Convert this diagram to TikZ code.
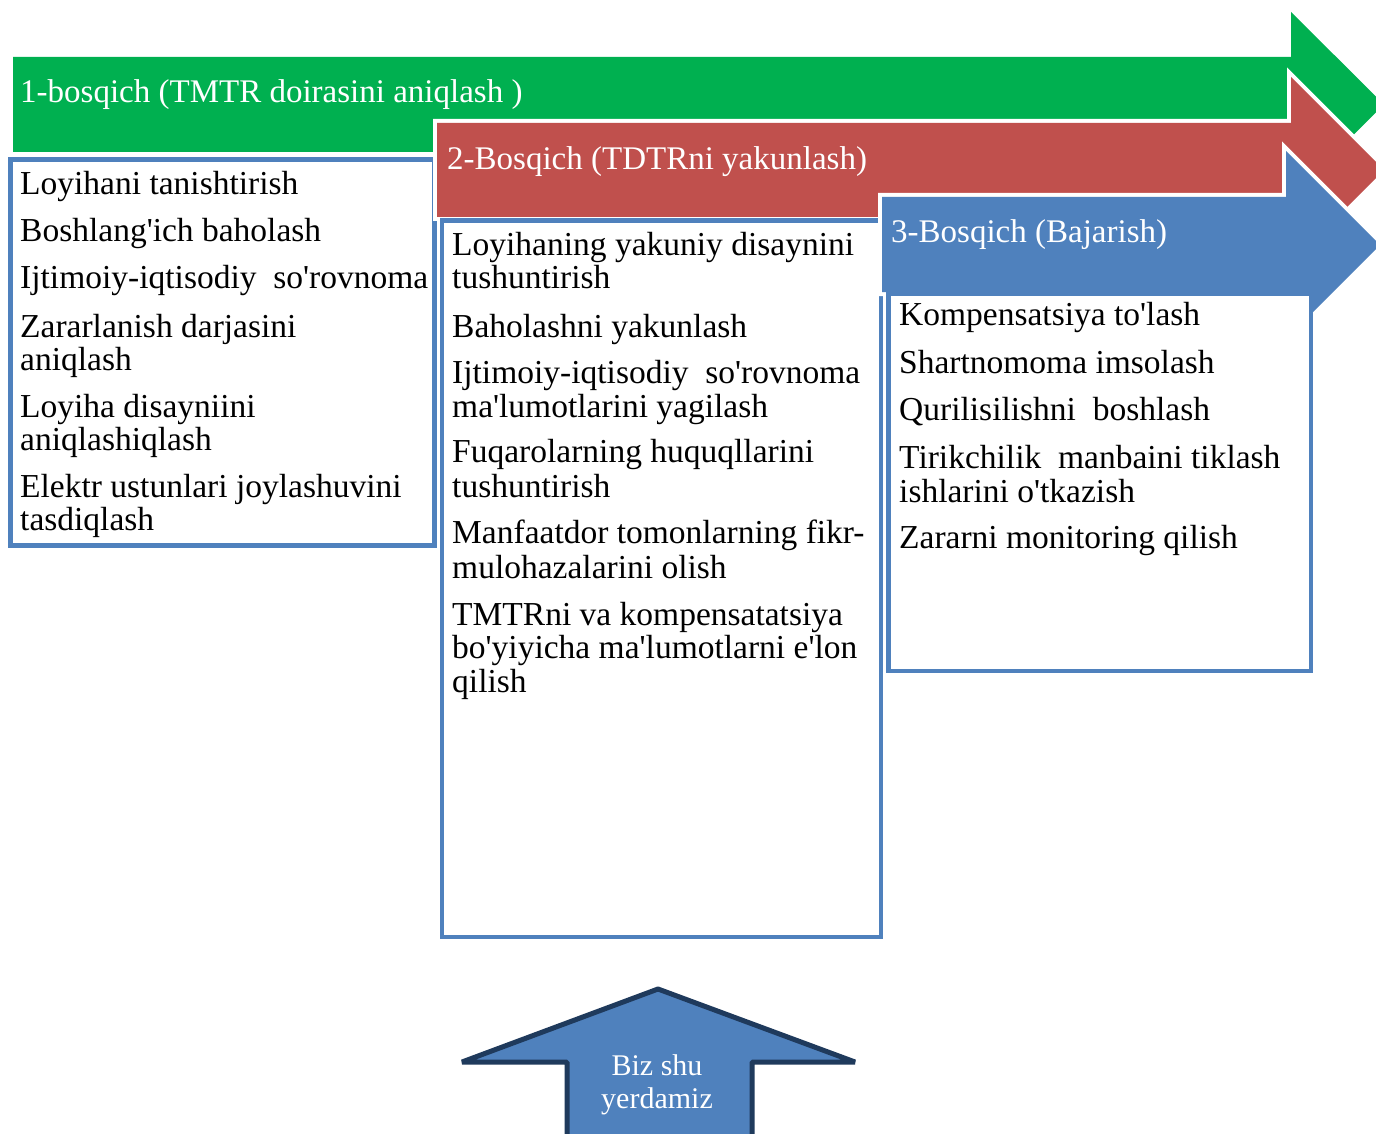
\documentclass[tikz,border=0pt]{standalone}
\usepackage{fontspec}
\setmainfont{Liberation Serif}
\definecolor{grn}{HTML}{00B050}
\definecolor{rd}{HTML}{C0504D}
\definecolor{blu}{HTML}{4F81BD}
\definecolor{navy}{HTML}{1F3A5C}
\newcommand\aq{\textquotesingle}
\tikzset{
  itm/.style={anchor=base west, inner sep=0pt, text=black, font=\fontsize{33.5}{34}\selectfont},
  hdr/.style={anchor=base west, inner sep=0pt, text=white, font=\fontsize{33}{40}\selectfont},
  stagearrow/.style={fill=#1, preaction={draw=white, line width=8pt, line join=miter}},
  listbox/.style={draw=blu, line width=4.5pt, fill=white},
  hereup/.style={draw=navy, line width=5pt, fill=blu, line join=bevel},
  heretxt/.style={anchor=base, inner sep=0pt, text=white, font=\fontsize{30}{33}\selectfont}
}
\begin{document}
\begin{tikzpicture}[x=1pt,y=-1pt]
\useasboundingbox (0,0) rectangle (1376,1134);
\clip (0,0) rectangle (1376,1134);
\fill[white] (0,0) rectangle (1376,1134);

% stage 1 arrow
\fill[stagearrow=grn] (13,57) -- (1291,57) -- (1291,12) -- (1384,104.5) -- (1291,197) -- (1291,152) -- (13,152) -- cycle;
\node[hdr] (h1) at (20,103) {1-bosqich (TMTR doirasini aniqlash )};

% box 1
\draw[listbox] (10.5,159.5) rectangle (434.5,545.5);
\node[itm] (a1) at (20,195) {Loyihani tanishtirish};
\node[itm] (a2) at (20,242) {Boshlang\aq ich baholash};
\node[itm] (a3) at (20,288) {Ijtimoiy-iqtisodiy\ \ so\aq rovnoma};
\node[itm] (a4) at (20,337) {Zararlanish darjasini};
\node[itm] (a5) at (20,370) {aniqlash};
\node[itm] (a6) at (20,417) {Loyiha disayniini};
\node[itm] (a7) at (20,450) {aniqlashiqlash};
\node[itm] (a8) at (20,497) {Elektr ustunlari joylashuvini};
\node[itm] (a9) at (20,530) {tasdiqlash};

% stage 2 arrow
\fill[stagearrow=rd] (437,123) -- (1291,123) -- (1291,77) -- (1384,170) -- (1291,263) -- (1291,217) -- (437,217) -- cycle;
\node[hdr] (h2) at (447,170) {2-Bosqich (TDTRni yakunlash)};

% box 2
\draw[listbox] (442,220.5) rectangle (881,937);
\node[itm] (b1) at (452,255) {Loyihaning yakuniy disaynini};
\node[itm] (b2) at (452,288) {tushuntirish};
\node[itm] (b3) at (452,337) {Baholashni yakunlash};
\node[itm] (b4) at (452,383) {Ijtimoiy-iqtisodiy\ \ so\aq rovnoma};
\node[itm] (b5) at (452,417) {ma\aq lumotlarini yagilash};
\node[itm] (b6) at (452,462) {Fuqarolarning huquqllarini};
\node[itm] (b7) at (452,497) {tushuntirish};
\node[itm] (b8) at (452,543) {Manfaatdor tomonlarning fikr-};
\node[itm] (b9) at (452,578) {mulohazalarini olish};
\node[itm] (b10) at (452,625) {TMTRni va kompensatatsiya};
\node[itm] (b11) at (452,658) {bo\aq yiyicha ma\aq lumotlarni e\aq lon};
\node[itm] (b12) at (452,692) {qilish};

% stage 3 arrow
\fill[stagearrow=blu] (882,197) -- (1286,197) -- (1286,151) -- (1380,245) -- (1286,339) -- (1286,292) -- (882,292) -- cycle;
\node[hdr] (h3) at (891,243) {3-Bosqich (Bajarish)};

% box 3
\draw[listbox] (888.5,294) rectangle (1311,671);
\node[itm] (c1) at (899,325) {Kompensatsiya to\aq lash};
\node[itm] (c2) at (899,373) {Shartnomoma imsolash};
\node[itm] (c3) at (899,420) {Qurilisilishni\ \ boshlash};
\node[itm] (c4) at (899,468) {Tirikchilik\ \ manbaini tiklash};
\node[itm] (c5) at (899,502) {ishlarini o\aq tkazish};
\node[itm] (c6) at (899,548) {Zararni monitoring qilish};

% "we are here" arrow
\draw[hereup] (567,1150) -- (567,1062) -- (462,1062) -- (658,989) -- (855,1062) -- (752,1062) -- (752,1150);
\node[heretxt] (w1) at (657,1075) {Biz shu};
\node[heretxt] (w2) at (657,1108) {yerdamiz};
\end{tikzpicture}
\end{document}
